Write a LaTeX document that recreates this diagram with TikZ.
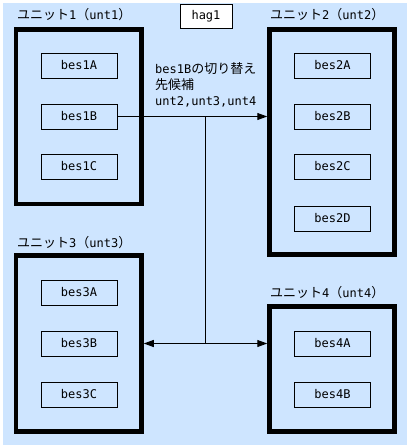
\documentclass[tikz,border=0pt]{standalone}
\usepackage{fontspec}
\setmainfont{DejaVu Sans Mono}
\newfontfamily\jp{Noto Sans CJK JP}
\usetikzlibrary{arrows.meta}
\definecolor{bgblue}{RGB}{206,229,255}
\newcommand{\ja}[1]{{\jp\fontsize{13}{16}\selectfont #1}}
\tikzset{
  unit/.style={draw,line width=4.5pt,fill=bgblue,inner sep=0pt},
  bes/.style={draw,line width=1pt,fill=bgblue,minimum width=76pt,minimum height=25pt,inner sep=0pt},
  ulabel/.style={anchor=west,inner sep=0pt}
}
\begin{document}
\begin{tikzpicture}[x=1pt,y=-1pt,font=\fontsize{12}{16}\selectfont]
\useasboundingbox (0,0) rectangle (411,448);
\fill[bgblue] (3,3) rectangle (407,445);
\node[draw,line width=1pt,fill=white,minimum width=52pt,minimum height=24pt,inner sep=0pt] (hag) at (206,16) {hag1};

\node[unit,minimum width=125.5pt,minimum height=174.5pt] (u1) at (78.75,116.75) {};
\node[unit,minimum width=125pt,minimum height=225pt] (u2) at (332,142) {};
\node[unit,minimum width=125.5pt,minimum height=176pt] (u3) at (78.75,343.5) {};
\node[unit,minimum width=125pt,minimum height=125pt] (u4) at (332,369) {};

\node[ulabel] (l1) at (17,15) {\ja{ユニット}1\ja{（}unt1\ja{）}};
\node[ulabel] (l2) at (270,15) {\ja{ユニット}2\ja{（}unt2\ja{）}};
\node[ulabel] (l3) at (17,243) {\ja{ユニット}3\ja{（}unt3\ja{）}};
\node[ulabel] (l4) at (270,293) {\ja{ユニット}4\ja{（}unt4\ja{）}};

\foreach \n/\y in {A/65.5,B/116.5,C/166.5}\node[bes] (b1\n) at (79,\y) {bes1\n};
\foreach \n/\y in {A/65.5,B/116.5,C/166.5,D/218.5}\node[bes] (b2\n) at (332.5,\y) {bes2\n};
\foreach \n/\y in {A/292.5,B/343.5,C/394.5}\node[bes] (b3\n) at (79,\y) {bes3\n};
\foreach \n/\y in {A/343.5,B/394.5}\node[bes] (b4\n) at (332.5,\y) {bes4\n};

\node[align=left,anchor=west,inner sep=0pt] (note) at (155,84.5) {bes1B\ja{の切り替え}\\\ja{先候補}\\unt2,unt3,unt4};

\coordinate (j) at (205.5,343.5);
\draw[line width=1pt] [-{Triangle[length=10pt,width=7pt]}] (b1B.east) -- (b1B.east -| u2.west);
\draw[line width=1pt] (b1B.east -| j) -- (j);
\draw[line width=1pt] [{Triangle[length=10pt,width=7pt]}-{Triangle[length=10pt,width=7pt]}] (u3.east) -- (u3.east -| u4.west);
\end{tikzpicture}
\end{document}
